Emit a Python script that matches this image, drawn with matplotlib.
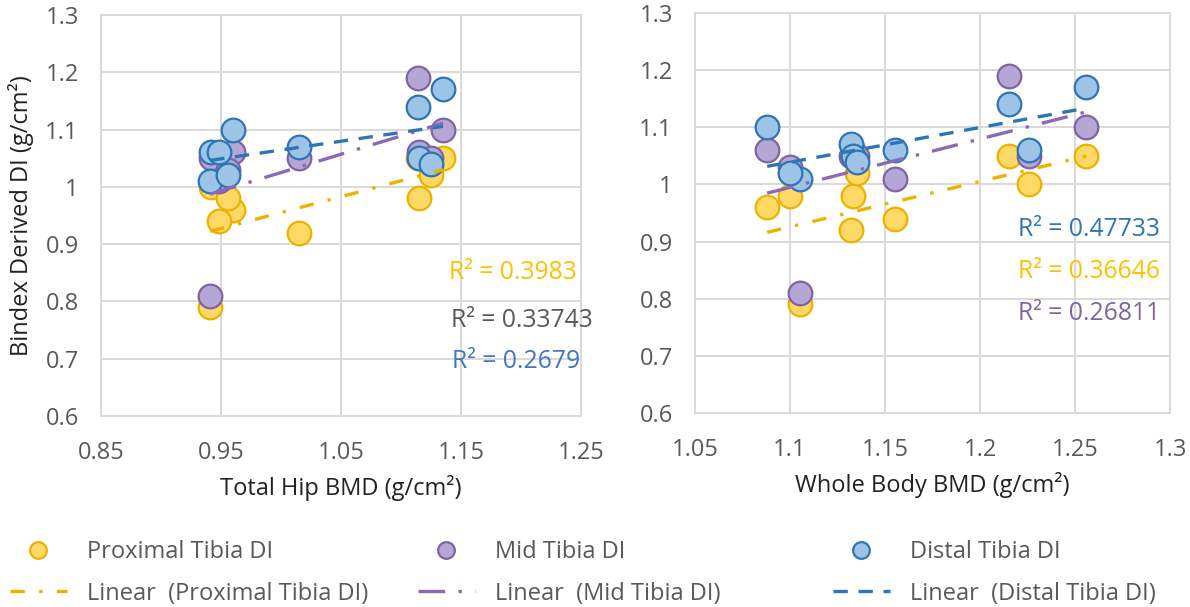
import numpy as np
import matplotlib
matplotlib.use("Agg")
import matplotlib.pyplot as plt
from matplotlib.lines import Line2D

plt.rcParams['font.family'] = ['Open Sans', 'DejaVu Sans']

# ---- data (10 subjects) ----
hip_bmd = [0.941, 1.114, 1.135, 0.942, 0.960, 0.956, 0.948, 1.015, 1.115, 1.125]
wb_bmd = [1.105, 1.215, 1.256, 1.226, 1.088, 1.100, 1.155, 1.132, 1.133, 1.135]
proximal_di = [0.79, 1.05, 1.05, 1.00, 0.96, 0.98, 0.94, 0.92, 0.98, 1.02]
mid_di = [0.81, 1.19, 1.10, 1.05, 1.06, 1.03, 1.01, 1.05, 1.06, 1.05]
distal_di = [1.01, 1.14, 1.17, 1.06, 1.10, 1.02, 1.06, 1.07, 1.05, 1.04]

series_names = ["Proximal Tibia DI", "Mid Tibia DI", "Distal Tibia DI"]
left_r2 = ["R\u00b2 = 0.3983", "R\u00b2 = 0.33743", "R\u00b2 = 0.2679"]
right_r2 = ["R\u00b2 = 0.47733", "R\u00b2 = 0.36646", "R\u00b2 = 0.26811"]

left_xticks = [0.85, 0.95, 1.05, 1.15, 1.25]
right_xticks = [1.05, 1.1, 1.15, 1.2, 1.25, 1.3]
yticks = [0.6, 0.7, 0.8, 0.9, 1.0, 1.1, 1.2, 1.3]

# ---- styles ----
fills = ["#FFD966", "#B4A7D6", "#9DC3E6"]
edges = ["#EDB100", "#8064A2", "#2E75B6"]
line_cols = ["#EDB100", "#8C68B8", "#2E75B6"]
dashes = [(4.3, 4.3, 1.0, 4.3), (8.0, 4.0, 1.0, 4.0), (4.3, 3.2)]
TXT = "#595959"
GRID = "#D9D9D9"

fig = plt.figure(figsize=(11.9, 6.07), dpi=100)
ax1 = fig.add_axes([101/1190, 1-416/607, 480/1190, 401/607])
ax2 = fig.add_axes([695/1190, 1-413/607, 475/1190, 400/607])

ys = [proximal_di, mid_di, distal_di]


def style(ax, xticks, xlim):
    ax.set_xlim(*xlim)
    ax.set_ylim(0.6, 1.3)
    ax.set_xticks(xticks)
    ax.set_xticklabels([("%g" % v) for v in xticks])
    ax.set_yticks(yticks)
    ax.set_yticklabels([("%g" % v) for v in yticks])
    ax.grid(True, color=GRID, linewidth=1.4, zorder=0)
    ax.set_axisbelow(True)
    for s in ax.spines.values():
        s.set_color(GRID)
        s.set_linewidth(1.4)
    ax.tick_params(length=0, labelsize=17, colors=TXT)
    ax.tick_params(axis='x', pad=18)
    ax.tick_params(axis='y', pad=16)


def draw(ax, xs):
    xs = np.asarray(xs)
    for i, y in enumerate(ys):
        ax.scatter(xs, y, s=290, facecolor=fills[i], edgecolor=edges[i],
                   linewidth=1.6, zorder=3 + i)
    for i, y in enumerate(ys):
        k, b = np.polyfit(xs, y, 1)
        xl = np.array([xs.min(), xs.max()])
        ln, = ax.plot(xl, k * xl + b, color=line_cols[i], linewidth=2.4,
                      zorder=10)
        ln.set_dashes(dashes[i])
        ln.set_dash_capstyle('butt')


draw(ax1, hip_bmd)
draw(ax2, wb_bmd)
style(ax1, left_xticks, (0.85, 1.25))
style(ax2, right_xticks, (1.05, 1.3))

ax1.set_xlabel("Total Hip BMD (g/cm\u00b2)", fontsize=17, color="#222222", labelpad=7)
ax2.set_xlabel("Whole Body BMD (g/cm\u00b2)", fontsize=17, color="#222222", labelpad=7)
ax1.set_ylabel("Bindex Derived DI (g/cm\u00b2)", fontsize=17, color="#222222", labelpad=8)

# R^2 annotations
lc = ["#FFC000", "#595959", "#4472C4"]
lpos = [(0.992, 0.359), (1.025, 0.239), (0.998, 0.135)]
for t, c, (x, y) in zip(left_r2, lc, lpos):
    ax1.text(x, y, t, transform=ax1.transAxes, ha='right', va='center',
             fontsize=17.8, color=c)
rc = ["#2E75B6", "#FFC000", "#8064A2"]
rpos = [(0.979, 0.4575), (0.979, 0.3525), (0.979, 0.2475)]
for t, c, (x, y) in zip(right_r2, rc, rpos):
    ax2.text(x, y, t, transform=ax2.transAxes, ha='right', va='center',
             fontsize=17.8, color=c)

# legends: three columns, each with marker + trendline entry
col_x = [10/1190, 418/1190, 833/1190]
for i in range(3):
    mh = Line2D([], [], linestyle='none', marker='o', markersize=12,
                markerfacecolor=fills[i], markeredgecolor=edges[i],
                markeredgewidth=1.6)
    lh = Line2D([], [], color=line_cols[i], linewidth=2.4)
    lh.set_dashes(dashes[i])
    leg = fig.legend([mh, lh], [series_names[i], "Linear  (" + series_names[i] + ")"],
                     loc='upper left', bbox_to_anchor=(col_x[i], 1 - 540/607),
                     frameon=False, fontsize=17, handlelength=2.4,
                     handletextpad=0.85, labelspacing=0.75, borderpad=0,
                     borderaxespad=0)
    for t in leg.get_texts():
        t.set_color(TXT)

fig.savefig("out.png", dpi=100)
